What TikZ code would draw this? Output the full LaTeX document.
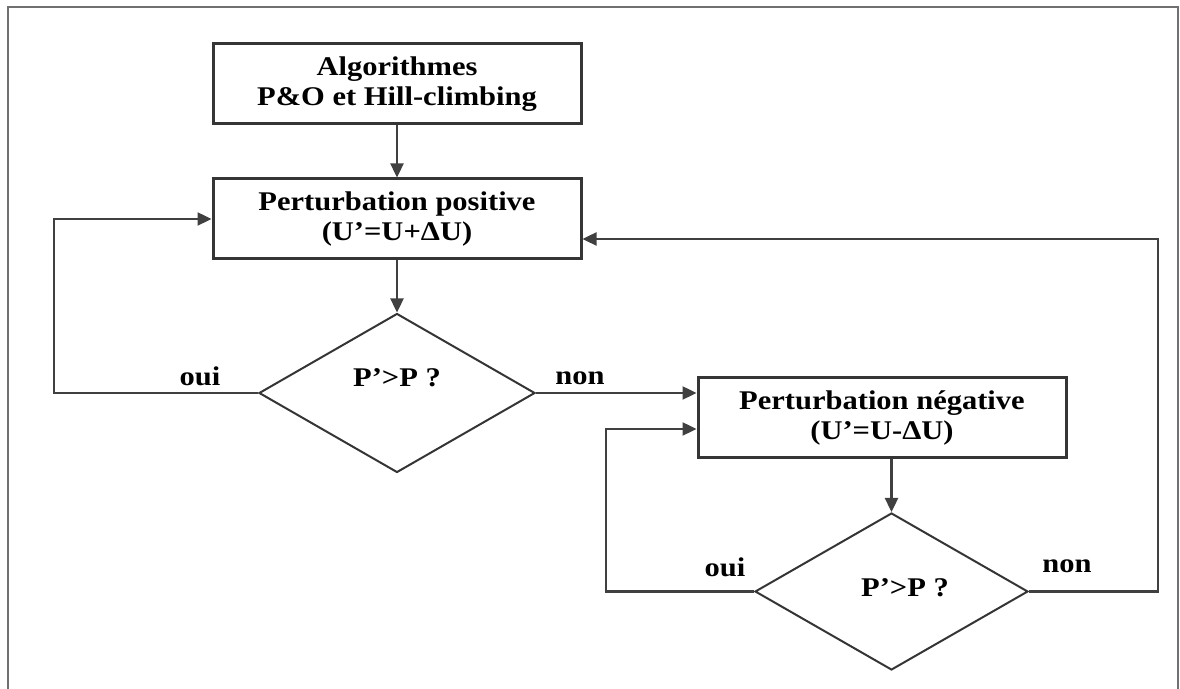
\documentclass[tikz,border=0pt]{standalone}
\usepackage{fontspec}
\setmainfont{Liberation Serif}[FakeStretch=1.13]
\usetikzlibrary{arrows.meta,shapes.geometric}
\definecolor{boxc}{HTML}{353535}
\definecolor{linec}{HTML}{404040}
\definecolor{framec}{HTML}{707070}
\begin{document}
\begin{tikzpicture}[x=0.5pt,y=-0.5pt,
  box/.style={draw=boxc,line width=1.5pt,minimum width=184pt,minimum height=40pt,inner sep=0pt,align=center,font=\fontsize{13.5}{15}\selectfont\bfseries},
  dia/.style={diamond,draw=boxc,line width=1pt,inner sep=0pt},
  lbl/.style={font=\fontsize{13.5}{15}\selectfont\bfseries,inner sep=0pt},
  conn/.style={draw=linec,line width=1.2pt,-{Triangle[length=7pt,width=6.5pt]}}
]
\useasboundingbox (0,0) rectangle (1180,689);
% outer frame
\draw[framec,line width=1pt] (8,689) -- (8,7) -- (1178,7) -- (1178,689);

% boxes
\node[box] (b1) at (397,84) {Algorithmes\\P\&O et Hill-climbing};
\node[box] (b2) at (397,219) {Perturbation positive\\(U’=U+ΔU)};
\node[box] (b3) at (882,418) {Perturbation négative\\(U’=U-ΔU)};

% diamonds
\node[dia,minimum width=138pt,minimum height=79.5pt] (d1) at (397,393) {};
\node[dia,minimum width=136.5pt,minimum height=78.5pt] (d2) at (891.5,591.5) {};
\node[lbl] (q1) at (397,378) {P’>P ?};
\node[lbl] (q2) at (905,588) {P’>P ?};

% labels
\node[lbl] (oui1) at (200,376) {oui};
\node[lbl] (non1) at (580,378) {non};
\node[lbl] (oui2) at (725,567) {oui};
\node[lbl] (non2) at (1067,566) {non};

% connectors
\draw[conn] (b1) -- (b2);
\draw[conn] (b2) -- (d1);
\draw[conn] (d1.west) -- ++(-204,0) |- (b2.west);
\draw[conn] (d1.east) -- (b3.west |- d1.east);
\draw[conn] (d2.north |- b3.south) -- (d2.north);
\draw[conn] (d2.west) -- ++(-148,0) |- ([yshift=-5.5pt]b3.west);
\draw[conn] (d2.east) -- ++(129,0) |- ([yshift=-10pt]b2.east);
\end{tikzpicture}
\end{document}
